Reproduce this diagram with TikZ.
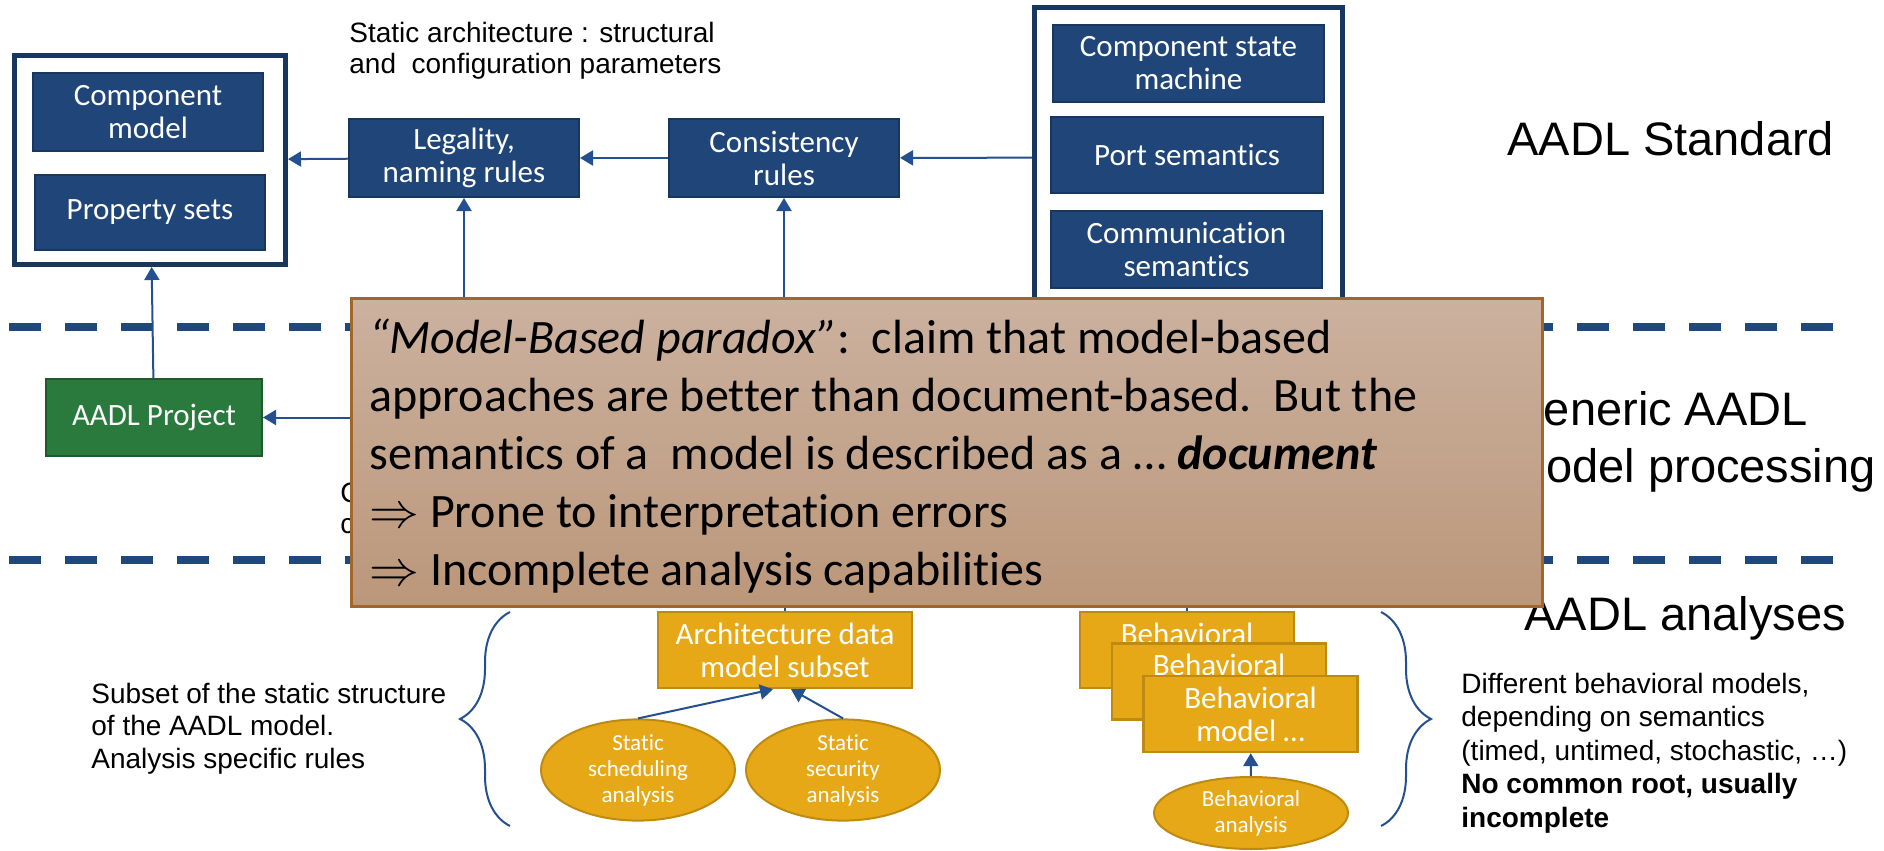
\documentclass[tikz,border=0pt]{standalone}
\usepackage{fontspec}
\setmainfont{Carlito}[Ligatures=NoCommon]
\newfontfamily\arialfont{Liberation Sans}
\usetikzlibrary{arrows.meta,shapes.geometric,decorations.pathreplacing}

\definecolor{aadlblue}{HTML}{1F4579}
\definecolor{aadledge}{HTML}{17375E}
\definecolor{linkblue}{HTML}{24508F}
\definecolor{dashblue}{HTML}{1F497D}
\definecolor{projgreen}{HTML}{2A7A3D}
\definecolor{projedge}{HTML}{1E5A2A}
\definecolor{aadlgold}{HTML}{E6A817}
\definecolor{goldedge}{HTML}{BE8A12}
\definecolor{parchtop}{HTML}{CBB19F}
\definecolor{parchbot}{HTML}{BB977A}
\definecolor{parchedge}{HTML}{A1672A}

\begin{document}
\begin{tikzpicture}[x=0.5pt,y=-0.5pt,
    bluebox/.style={draw=aadledge,fill=aadlblue,line width=1pt,text=white,align=center,
      inner sep=0pt,font=\fontsize{15.5}{16.5}\selectfont},
    greenbox/.style={bluebox,draw=projedge,fill=projgreen},
    goldbox/.style={bluebox,draw=goldedge,fill=aadlgold,line width=1.2pt,
      minimum width=107pt,minimum height=38pt},
    goldoval/.style={ellipse,draw=goldedge,fill=aadlgold,line width=1pt,text=white,
      align=center,inner sep=0pt,minimum width=97pt,minimum height=40pt,
      font=\fontsize{11.5}{13}\selectfont},
    stdframe/.style={draw=aadledge,line width=2.5pt,inner sep=0pt},
    link/.style={draw=linkblue,line width=1pt,-{Triangle[length=6.5pt,width=7.5pt]}},
    layerline/.style={draw=dashblue,line width=4pt,dash pattern=on 16pt off 12pt},
    note/.style={font=\arialfont\fontsize{14}{15.5}\selectfont,align=left,
      anchor=base west,inner sep=0pt},
    bigtitle/.style={font=\arialfont\fontsize{23.5}{28.5}\selectfont,align=left,
      anchor=base west,inner sep=0pt},
    curly/.style={draw=linkblue,line width=1pt,decorate,decoration={brace,amplitude=25pt}},
    parchment/.style={draw=parchedge,line width=1.5pt,top color=parchtop,
      bottom color=parchbot,inner sep=0pt}]
  \fill[white] (0,0) rectangle (1884,851);
  \useasboundingbox (0,0) rectangle (1884,851);

  % layer separators
  \draw[layerline] (9,327) -- (1833,327);
  \draw[layerline] (9,560) -- (1833,560);

  % AADL standard
  \node[stdframe,minimum width=135.5pt,minimum height=104.5pt] (stdlib) at (150,160) {};
  \node[bluebox,minimum width=115pt,minimum height=39pt] (compmodel) at (148,112) {Component\\model};
  \node[bluebox,minimum width=115pt,minimum height=37.5pt] (propsets) at (150,212.5) {Property sets};
  \node[bluebox,minimum width=115pt,minimum height=39pt] (legality) at (464,158) {Legality,\\naming rules};
  \node[bluebox,minimum width=115pt,minimum height=39pt] (consist) at (784,158) {Consistency\\rules};
  \node[stdframe,minimum width=154pt,minimum height=150pt] (semframe) at (1188.5,157.5) {};
  \node[bluebox,minimum width=135.5pt,minimum height=38.5pt] (statemach) at (1188.5,63.5) {Component state\\machine};
  \node[bluebox,minimum width=136pt,minimum height=38pt] (portsem) at (1187,155) {Port semantics};
  \node[bluebox,minimum width=135.5pt,minimum height=38.5pt] (commsem) at (1186.5,249.5) {Communication\\semantics};

  % base anchor = last line
  \node[note] (statictxt) at (349,73) {Static architecture : structural\\and\ \ configuration parameters};
  \node[bigtitle] (stdtitle) at (1507,155) {AADL Standard};

  % generic processing
  \node[greenbox,minimum width=108pt,minimum height=38.5pt] (project) at (154,417.5) {AADL Project};
  \node[note] (hiddentxt) at (340,533) {C\\c};
  \node[bigtitle] (gentitle) at (1507,482) {Generic AADL\\model processing};

  % analyses
  \node[goldbox,minimum width=127pt] (archdata) at (785,650) {Architecture data\\model subset};
  \node[goldoval] (schedan) at (638,770) {Static\\scheduling\\analysis};
  \node[goldoval] (secan) at (843,770) {Static\\security\\analysis};
  \node[goldbox] (behav1) at (1187,650) {Behavioral\\model \dots};
  \node[goldbox] (behav2) at (1219,681.5) {Behavioral\\model \dots};
  \node[goldbox] (behav3) at (1250.5,714) {Behavioral\\model \dots};
  \node[goldoval,minimum height=36pt] (behavan) at (1251,813) {Behavioral\\analysis};

  \node[note,font=\arialfont\fontsize{14}{16.25}\selectfont] (subsettxt) at (91,768)
    {Subset of the static structure\\of the AADL model.\\Analysis specific rules};
  \node[note,font=\arialfont\fontsize{14}{16.75}\selectfont] (behavtxt) at (1461,827)
    {Different behavioral models,\\depending on semantics\\(timed, untimed, stochastic, …)\\
     \textbf{No common root, usually}\\\textbf{incomplete}};
  \node[bigtitle] (antitle) at (1524,630) {AADL analyses};

  \draw[curly] (510,826) -- (510,612);
  \draw[curly] (1381,612) -- (1381,826);

  % connectors
  \coordinate (genlegal) at (464,340);
  \coordinate (genconsist) at (784,340);
  \coordinate (genproject) at (420,417.5);
  \coordinate (genarch) at (785,570);
  \coordinate (genbehav) at (1187,570);
  \draw[link] (legality) -- (stdlib);
  \draw[link] (consist) -- (legality);
  \draw[link] (semframe) -- (consist);
  \draw[link] (project) -- (stdlib);
  \draw[link] (genlegal) -- (legality);
  \draw[link] (genconsist) -- (consist);
  \draw[link] (genproject) -- (project);
  \draw[link] (archdata) -- (genarch);
  \draw[link] (behav1) -- (genbehav);
  \draw[link] (schedan.north) -- ([xshift=-6pt]archdata.south);
  \draw[link] (secan.north) -- ([xshift=3pt]archdata.south);
  \draw[link] (behavan) -- (behav3);

  % overlay
  \node[parchment,minimum width=595.5pt,minimum height=154pt] (paradox) at (947,452.5) {};
  \node[anchor=base west,align=left,inner sep=0pt,font=\fontsize{24}{29}\selectfont] (paradoxtxt) at (369,585)
    {\textit{“Model-Based paradox”}:\ \ claim that model-based\\
     approaches are better than document-based.\ \ But the\\
     semantics of a\ \ model is described as a … \textbf{\textit{document}}\\
     $\Rightarrow$ Prone to interpretation errors\\
     $\Rightarrow$ Incomplete analysis capabilities};
\end{tikzpicture}
\end{document}
